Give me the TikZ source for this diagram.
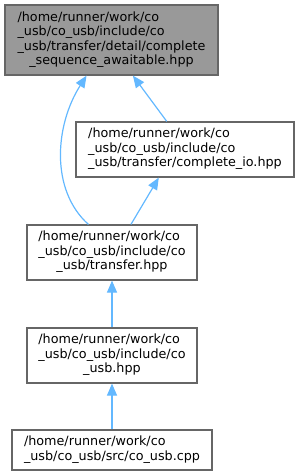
\documentclass[tikz,border=0pt]{standalone}
\usepackage{fontspec}
\setmainfont{DejaVu Sans}
\usetikzlibrary{arrows.meta}
\definecolor{nodefill}{HTML}{999999}
\definecolor{nodeborder}{HTML}{666666}
\definecolor{edgeblue}{HTML}{63B8FF}
\newcommand{\ultimariga}[1]{\multicolumn{1}{@{}c@{}}{#1}}
\tikzset{
  filebox/.style={draw=nodeborder, line width=1.2bp, fill=white, inner sep=0pt,
    font=\fontsize{12.8}{14.6}\selectfont},
  dipende/.style={draw=edgeblue, line width=1.2bp, -{Triangle[length=12bp,width=10bp]}}
}
\begin{document}
\begin{tikzpicture}[x=1bp,y=-1bp]
        \useasboundingbox (0,0) rectangle (300,476);
        % Nodi
        \node [filebox, fill=nodefill, minimum width=213bp, minimum height=70bp] (awaitable) at (111.5,40)
          {\begin{tabular}{@{}l@{}}/home/runner/work/co\\ \_usb/co\_usb/include/co\\ \_usb/transfer/detail/complete\\ \ultimariga{\_sequence\_awaitable.hpp}\end{tabular}};
        \node [filebox, minimum width=218bp, minimum height=55bp] (completeio) at (185,149.5)
          {\begin{tabular}{@{}l@{}}/home/runner/work/co\\ \_usb/co\_usb/include/co\\ \_usb/transfer/complete\_io.hpp\end{tabular}};
        \node [filebox, minimum width=170bp, minimum height=55bp] (transfer) at (112,252.5)
          {\begin{tabular}{@{}l@{}}/home/runner/work/co\\ \_usb/co\_usb/include/co\\ \ultimariga{\_usb/transfer.hpp}\end{tabular}};
        \node [filebox, minimum width=170bp, minimum height=55bp] (cousbhpp) at (112,355.5)
          {\begin{tabular}{@{}l@{}}/home/runner/work/co\\ \_usb/co\_usb/include/co\\ \ultimariga{\_usb.hpp}\end{tabular}};
        \node [filebox, minimum width=200bp, minimum height=40bp] (cousbcpp) at (112,450)
          {\begin{tabular}{@{}l@{}}/home/runner/work/co\\ \_usb/co\_usb/src/co\_usb.cpp\end{tabular}};
        % Archi
        \draw [dipende] (transfer.130) .. controls (50,190) and (55,125) .. (awaitable.235);
        \draw [dipende] (completeio.123) -- (awaitable.301.6);
        \draw [dipende] (transfer.56.8) -- (completeio.227.7);
        \draw [dipende] (cousbhpp.north) -- (transfer.south);
        \draw [dipende] (cousbcpp.north) -- (cousbhpp.south);
    \end{tikzpicture}
\end{document}
